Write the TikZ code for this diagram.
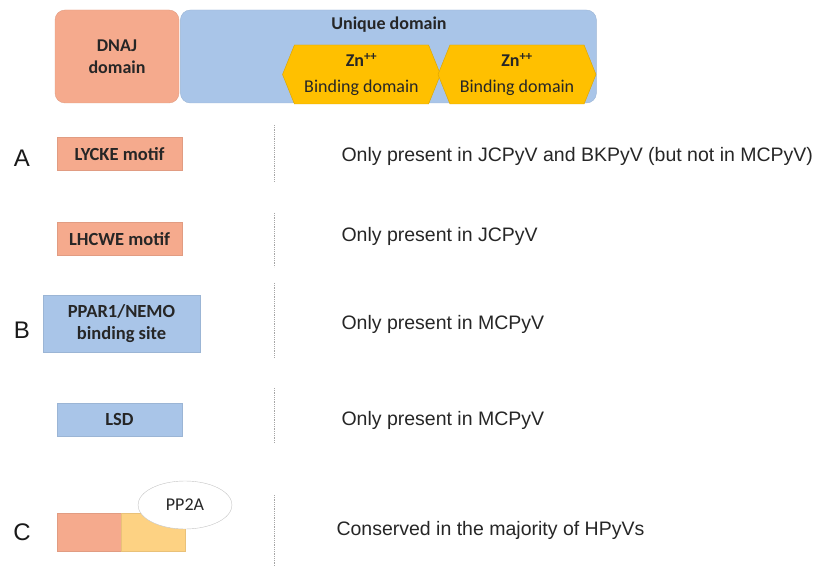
\documentclass[tikz,border=0pt]{standalone}
\usepackage{fontspec}
\setmainfont{Liberation Sans}
\newfontfamily\calfont{Carlito}
\usepackage{xcolor}
\usetikzlibrary{shapes,positioning}

\definecolor{salmon}{HTML}{F5AA8D}
\definecolor{skyblue}{HTML}{A9C5E8}
\definecolor{znorange}{HTML}{FFC000}
\definecolor{paleorange}{HTML}{FDD283}
\definecolor{boxink}{HTML}{262626}

\tikzset{
    domainbox/.style={rounded corners=10pt, fill=#1, draw=#1!92!black, line width=0.4pt,
        text=boxink, align=center, inner sep=0pt,
        font=\calfont\bfseries\fontsize{18}{22}\selectfont},
    motifbox/.style={fill=#1, draw=#1!92!black, line width=0.4pt, text=boxink,
        align=center, inner sep=0pt, minimum width=125pt, minimum height=33pt,
        font=\calfont\bfseries\fontsize{18.5}{22}\selectfont},
    znbox/.style={signal, signal to=east and west, signal pointer angle=136,
        fill=znorange, draw=znorange!85!black, line width=0.4pt, text=boxink,
        align=center, inner sep=0pt, minimum width=158pt, minimum height=59pt,
        font=\calfont\fontsize{18}{26}\selectfont},
    rowtag/.style={font=\fontsize{24}{28}\selectfont, text=black!90},
    note/.style={anchor=west, font=\fontsize{19.5}{23}\selectfont, text=black!85},
    sep/.style={densely dotted, gray!70, line width=0.8pt}
}

\begin{document}
\begin{tikzpicture}[x=1pt, y=-1pt]
    \useasboundingbox (0,0) rectangle (815,567);

    % Protein layout along the top
    \node[domainbox=salmon, minimum width=124pt, minimum height=93pt] (dnaj) at (117,56.5) {DNAJ\\domain};
    \node[domainbox=skyblue, minimum width=416pt, minimum height=93pt, right=1pt of dnaj] (unique) {};
    \node[font=\calfont\bfseries\fontsize{18}{22}\selectfont, text=boxink] (uniquelbl) at (389,25) {Unique domain};
    \node[znbox] (zn1) at (361.5,74.5) {\textbf{Zn\textsuperscript{++}}\\Binding domain};
    \node[znbox] (zn2) at (517,74.5) {\textbf{Zn\textsuperscript{++}}\\Binding domain};

    % Row tags
    \node[rowtag] (tagA) at (22,158) {A};
    \node[rowtag] (tagB) at (22,330) {B};
    \node[rowtag] (tagC) at (22,532) {C};

    % Motifs and sites
    \node[motifbox=salmon] (lycke) at (119.5,154) {LYCKE motif};
    \node[motifbox=salmon] (lhcwe) at (119.5,239) {LHCWE motif};
    \node[motifbox=skyblue, minimum width=157pt, minimum height=57pt] (ppar) at (121.5,323.5) {PPAR1/NEMO\\binding site};
    \node[motifbox=skyblue] (lsd) at (119.5,419.5) {LSD};
    \node[motifbox=salmon, minimum width=64pt, minimum height=38pt] (cdnaj) at (89,532) {};
    \node[motifbox=paleorange, minimum width=64pt, minimum height=38pt, right=0pt of cdnaj] (cbind) {};
    \node[ellipse, fill=white, draw=gray!45, minimum width=94pt, minimum height=48pt,
          font=\calfont\fontsize{18}{22}\selectfont, text=boxink] (pp2a) at (185,505) {PP2A};

    % Separators
    \foreach \a/\b in {125/182, 213/267, 283/357, 388/443, 495/567} {
        \draw[sep] (274,\a) -- (274,\b);
    }

    % Notes
    \node[note] (noteA1) at (338,156) {Only present in JCPyV and BKPyV (but not in MCPyV)};
    \node[note] (noteA2) at (338,236) {Only present in JCPyV};
    \node[note] (noteB1) at (338,324) {Only present in MCPyV};
    \node[note] (noteB2) at (338,420) {Only present in MCPyV};
    \node[note] (noteC) at (333,530) {Conserved in the majority of HPyVs};
\end{tikzpicture}
\end{document}
